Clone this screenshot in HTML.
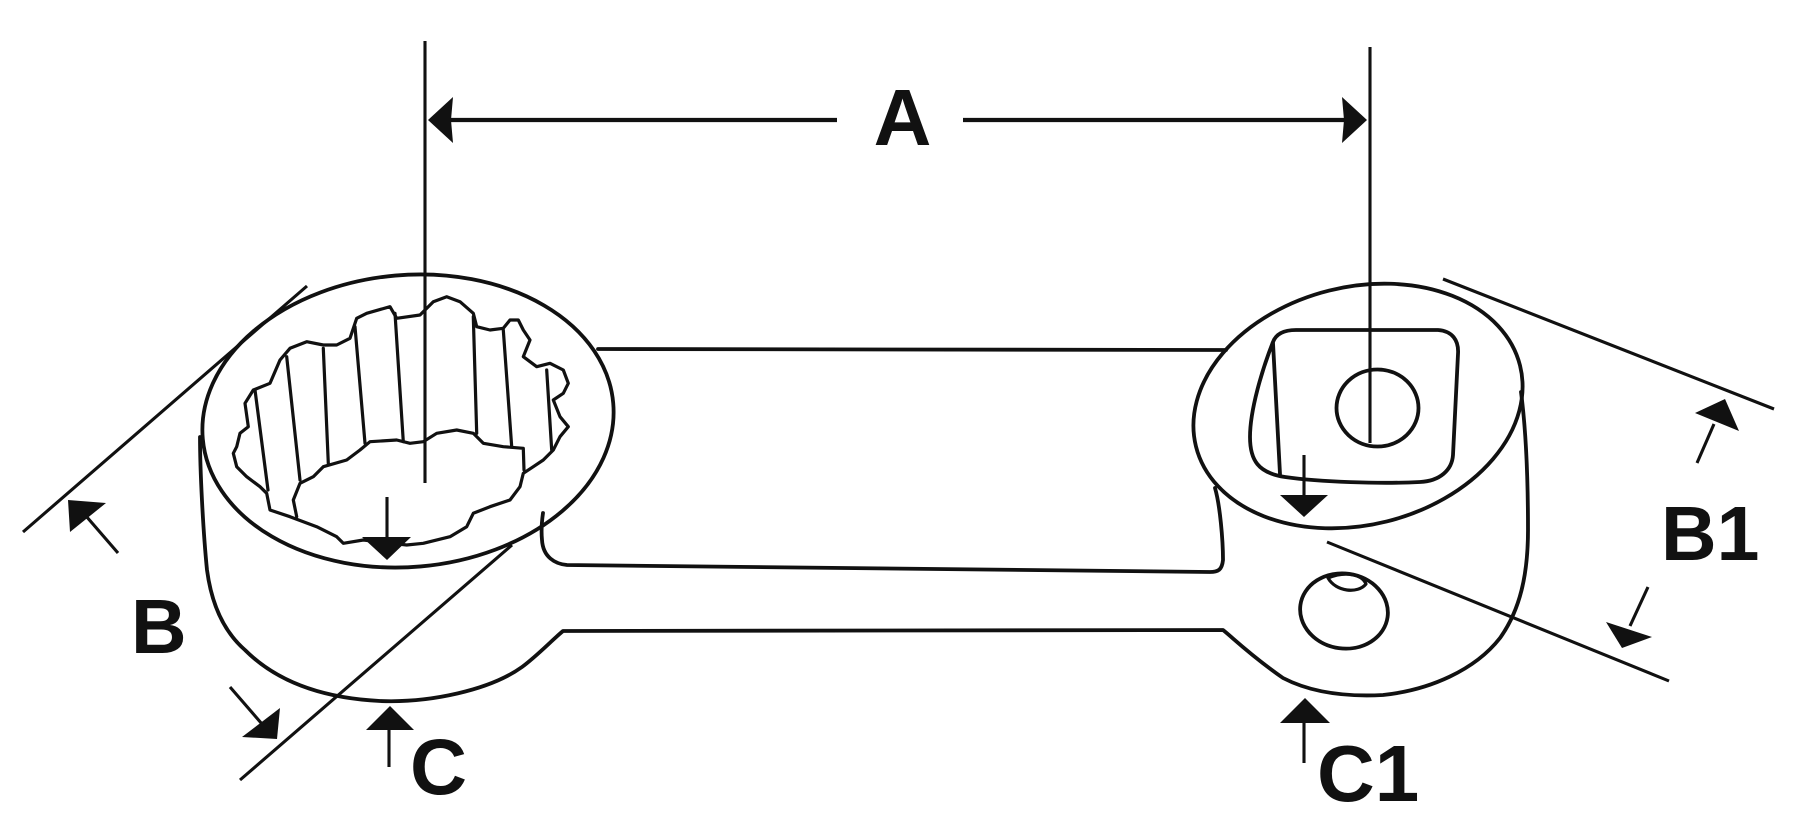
<!DOCTYPE html>
<html>
<head>
<meta charset="utf-8">
<style>
  html, body { margin:0; padding:0; background:#ffffff; }
  body { width:1800px; height:828px; overflow:hidden; }
  svg { display:block; }
  .o { fill:none; stroke:#111; stroke-width:3.8; stroke-linejoin:round; stroke-linecap:round; }
  .d { fill:none; stroke:#111; stroke-width:3.1; stroke-linecap:butt; }
  .i { fill:none; stroke:#111; stroke-width:3.2; stroke-linejoin:round; stroke-linecap:round; }
  .ah { fill:#111; stroke:none; }
  .t { font-family:"Liberation Sans", Arial, sans-serif; font-weight:bold; fill:#111; }
</style>
</head>
<body>
<svg width="1800" height="828" viewBox="0 0 1800 828" xmlns="http://www.w3.org/2000/svg">

  <!-- ===== Body outlines ===== -->
  <ellipse class="o" cx="408" cy="421" rx="206" ry="146" transform="rotate(-5 408 421)"/>
  <ellipse class="o" cx="1358" cy="406" rx="167" ry="119" transform="rotate(-14 1358 406)"/>

  <path class="o" d="M200,437 C200,470 203,530 207,570 C211,600 222,630 245,650 C275,680 320,698 380,701 C430,703 490,690 522,667 C538,655 550,642 563,631 L1223,630 C1232,637 1250,655 1283,678 C1310,692 1345,697 1383,695 C1430,690 1475,670 1500,638 C1520,610 1528,575 1528,530 C1528,480 1526,430 1521,392"/>

  <path class="o" d="M598,349 L1226,350"/>

  <path class="o" d="M1215,488 C1220,505 1223,540 1223,560 C1222,570 1218,572 1210,572 L567,565 C555,564 543,557 542,540 C541,530 542,520 543,513"/>

  <!-- ===== Left 12-point socket ===== -->
  <path class="i" d="M236.7,446.7 L240,433.3 L248.3,426.7 L245,403.3 L253.3,390 L270,383.3 L280,360 L290,348.3 L306.7,341.7 L323.3,345 L336.7,345 L350,338.3 L356.7,318.3 L366.7,313.3 L390,306.7 L396.7,318.3 L420,315 L433.3,301.7 L446.7,296.7 L460,301.7 L473.3,313.3 L476.7,326.7 L490,330 L503.3,328.3 L510,320 L518.3,320 L523.3,330 L530,340 L523.3,356.7 L536.7,366.7 L550,363.3 L563.3,370 L568.3,383.3 L563.3,393.3 L553.3,400 L560,416.7 L568.3,426.7 L560,436.7 L553.3,450 L543.3,460 L533.3,466.7 L523.3,473.3 L520,486.7 L510,500 L490,506.7 L473.3,513.3 L466.7,526.7 L450,536.7 L423.3,543.3 L406.7,545 L363.3,540 L343.3,543.3 L336.7,536.7 L316.7,526.7 L290,516.7 L270,510 L266.7,493.3 L260,486.7 L246.7,476.7 L236.7,466.7 L233.3,453.3 Z"/>
  <path class="i" d="M296.7,516.7 L293.3,500 L300,483.3 L313.3,476.7 L323.3,466.7 L346.7,460 L360,450 L370,441.7 L396.7,440 L410,443.3 L423.3,441.7 L436.7,433.3 L456.7,430 L473.3,433.3 L483.3,443.3 L503.3,446.7 L523.3,448.3 L524,470"/>
  <path class="i" d="M255,390 L268,490 M286.7,356.7 L300,480 M323.3,348.3 L328.3,463.3 M355,326.7 L365,443.3 M395,313.3 L403.3,441.7 M473.3,316.7 L476.7,433.3 M503.3,330 L511.7,446.7 M546.7,370 L551.7,450"/>

  <!-- ===== Right socket ===== -->
  <path class="o" d="M1273,342 C1276,334 1284,330 1296,330 L1438,330 C1452,331 1459,340 1458,354 L1453,455 C1452,470 1440,481 1420,482 C1380,484 1320,482 1285,477 C1258,473 1250,460 1250,437 C1250,410 1262,370 1273,342 Z"/>
  <path class="o" d="M1273,343 L1280,474"/>
  <ellipse class="o" cx="1377.5" cy="408" rx="41" ry="38.5"/>
  <ellipse class="o" cx="1344" cy="611" rx="44" ry="37.5" transform="rotate(8 1344 611)"/>
  <path class="i" d="M1328,578 C1336,592 1358,594 1366,584 C1362,574 1345,571 1328,578 Z"/>

  <!-- ===== Dimension A ===== -->
  <line class="d" x1="425" y1="41" x2="425" y2="483"/>
  <line class="d" x1="1370" y1="47" x2="1370" y2="443"/>
  <line x1="440" y1="120" x2="837" y2="120" stroke="#111" stroke-width="4.2"/>
  <line x1="963" y1="120" x2="1356" y2="120" stroke="#111" stroke-width="4.2"/>
  <polygon class="ah" points="428,120 453,97 451,120 453,143"/>
  <polygon class="ah" points="1367,120 1342,97 1344,120 1342,143"/>
  <text class="t" x="902.5" y="145" font-size="80" text-anchor="middle">A</text>

  <!-- ===== Dimension B ===== -->
  <line class="d" x1="23" y1="532" x2="307" y2="286"/>
  <line class="d" x1="512" y1="545" x2="240" y2="780"/>
  <line class="d" x1="118" y1="553" x2="86" y2="516"/>
  <polygon class="ah" points="68,500 106,503 70,532"/>
  <line class="d" x1="230" y1="687" x2="262" y2="724"/>
  <polygon class="ah" points="277,739 280,708 242,737"/>
  <text class="t" x="131" y="653" font-size="77">B</text>

  <!-- ===== Dimension B1 ===== -->
  <line class="d" x1="1443" y1="279" x2="1774" y2="409"/>
  <line class="d" x1="1327" y1="542" x2="1669" y2="681"/>
  <line class="d" x1="1697" y1="463" x2="1714" y2="424"/>
  <polygon class="ah" points="1725,399 1695,413 1739,431"/>
  <line class="d" x1="1648" y1="587" x2="1630" y2="626"/>
  <polygon class="ah" points="1622,648 1606,622 1652,637"/>
  <text class="t" x="1661" y="560" font-size="77">B1</text>

  <!-- ===== C indicators ===== -->
  <line class="d" x1="387" y1="497" x2="387" y2="540"/>
  <polygon class="ah" points="362,537 411,537 387,560"/>
  <line class="d" x1="1304" y1="455" x2="1304" y2="498"/>
  <polygon class="ah" points="1280,495 1328,495 1304,517"/>

  <line class="d" x1="389" y1="767" x2="389" y2="728"/>
  <polygon class="ah" points="366,730 414,730 390,706"/>
  <text class="t" x="410" y="794" font-size="79">C</text>

  <line class="d" x1="1304" y1="763" x2="1304" y2="721"/>
  <polygon class="ah" points="1280,723 1330,723 1305,698"/>
  <text class="t" x="1317" y="801" font-size="80">C1</text>
</svg>
</body>
</html>
